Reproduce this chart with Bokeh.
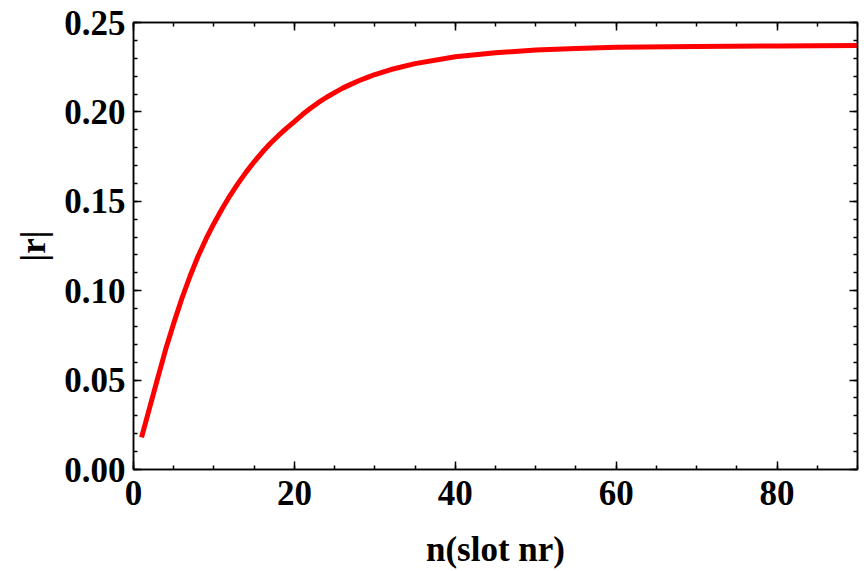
from bokeh.plotting import figure
from bokeh.models import LinearAxis, Range1d, SingleIntervalTicker, NumeralTickFormatter
from bokeh.embed import file_html
from bokeh.resources import INLINE

# data
n_slot = [1, 2, 3, 4, 5, 6, 7, 8, 9, 10, 11, 12, 13, 14, 15, 16, 17, 18, 19, 20,
          21, 22, 23, 24, 25, 26, 27, 28, 29, 30, 32, 35, 40, 45, 50, 55, 60, 70, 80, 90]
r_abs = [0.0180, 0.0345, 0.0510, 0.0672, 0.0818, 0.0955, 0.1078, 0.1190, 0.1288, 0.1376,
         0.1457, 0.1532, 0.1600, 0.1663, 0.1721, 0.1774, 0.1823, 0.1867, 0.1908, 0.1946,
         0.1985, 0.2020, 0.2053, 0.2082, 0.2108, 0.2133, 0.2154, 0.2174, 0.2192, 0.2209,
         0.2237, 0.2270, 0.2308, 0.2331, 0.2346, 0.2355, 0.2361, 0.2366, 0.2369, 0.2371]
x_label = "n(slot nr)"
y_label = "|r|"

FONT = "Liberation Serif"
FS = "35px"

p = figure(width=864, height=571, output_backend="svg", toolbar_location=None,
           x_range=Range1d(0, 90), y_range=Range1d(0, 0.25),
           min_border_left=133, min_border_right=7, min_border_top=22,
           min_border_bottom=102, x_axis_label=x_label, y_axis_label=y_label)

p.line(n_slot, r_abs, line_color="#ff0000", line_width=5, line_join="round")

p.grid.visible = False
p.outline_line_color = "black"
p.outline_line_width = 1.5
p.background_fill_color = "white"
p.border_fill_color = "white"

p.xaxis.ticker = SingleIntervalTicker(interval=20, num_minor_ticks=4)
p.yaxis.ticker = SingleIntervalTicker(interval=0.05, num_minor_ticks=5)
p.yaxis.formatter = NumeralTickFormatter(format="0.00")


def style(ax, labels=True):
    ax.axis_line_color = "black"
    ax.axis_line_width = 1.5
    ax.major_tick_in = 8
    ax.major_tick_out = 0
    ax.minor_tick_in = 4
    ax.minor_tick_out = 0
    ax.major_tick_line_width = 1.5
    ax.minor_tick_line_width = 1.5
    ax.major_tick_line_color = "black"
    ax.minor_tick_line_color = "black"
    if labels:
        ax.major_label_text_font = FONT
        ax.major_label_text_font_style = "bold"
        ax.major_label_text_font_size = FS
        ax.major_label_text_color = "black"
        ax.axis_label_text_font = FONT
        ax.axis_label_text_font_style = "bold"
        ax.axis_label_text_font_size = FS
        ax.axis_label_text_color = "black"
    else:
        ax.major_label_text_font_size = "2px"
        ax.major_label_text_color = None
        ax.major_label_standoff = 0


for ax in p.xaxis:
    style(ax)
    ax.major_label_standoff = 11
    ax.axis_label_standoff = 22
for ax in p.yaxis:
    style(ax)
    ax.major_label_standoff = 8
    ax.axis_label_standoff = 8

top = LinearAxis(ticker=SingleIntervalTicker(interval=20, num_minor_ticks=4))
style(top, labels=False)
p.add_layout(top, "above")
right = LinearAxis(ticker=SingleIntervalTicker(interval=0.05, num_minor_ticks=5))
style(right, labels=False)
p.add_layout(right, "right")

open("out.html", "w").write(file_html(p, INLINE))
